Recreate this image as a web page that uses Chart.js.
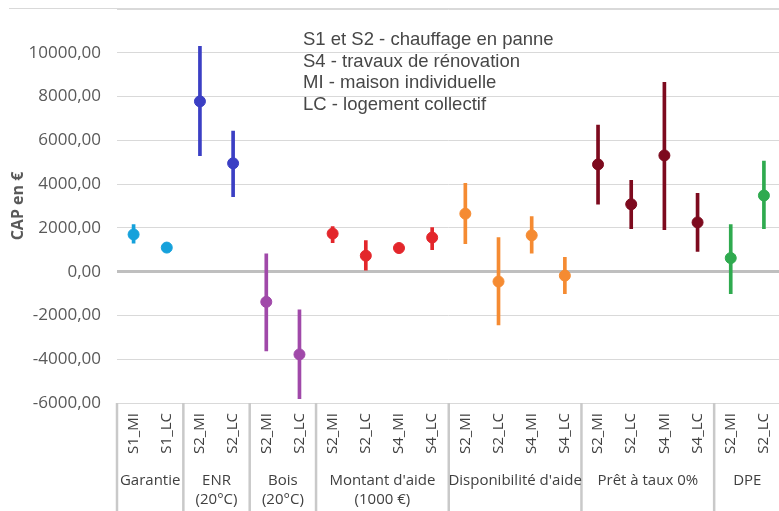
<!DOCTYPE html>
<html>
<head>
<meta charset="utf-8">
<script src="https://cdn.jsdelivr.net/npm/chart.js@4.4.0/dist/chart.umd.min.js"></script>
<style>
    html, body { margin: 0; padding: 0; background: #fff; overflow: hidden; }
    #wrap { position: relative; width: 787px; height: 511px; }
</style>
</head>
<body>
<div id="wrap"><canvas id="c"></canvas></div>
<script>
    // Groups (bottom level of the axis) and how many scenarios each holds
    const groupNames = [
        ['Garantie'],
        ['ENR', '(20°C)'],
        ['Bois', '(20°C)'],
        ["Montant d'aide", '(1000 €)'],
        ["Disponibilité d'aide"],
        ['Prêt à taux 0%'],
        ['DPE']
    ];
    const groupSizes = [2, 2, 2, 4, 4, 4, 2];
    const groupColors = ['#15a1db', '#3b3fc4', '#a049a9', '#e3262b', '#f58b32', '#7d0a1e', '#2faa4f'];

    // Scenarios (top level of the axis)
    const scenarios = [
        'S1_MI', 'S1_LC',
        'S2_MI', 'S2_LC',
        'S2_MI', 'S2_LC',
        'S2_MI', 'S2_LC', 'S4_MI', 'S4_LC',
        'S2_MI', 'S2_LC', 'S4_MI', 'S4_LC',
        'S2_MI', 'S2_LC', 'S4_MI', 'S4_LC',
        'S2_MI', 'S2_LC'
    ];

    // CAP en € : mean value and interval bounds
    const capMean = [1700, 1100, 7780, 4950, -1380, -3780, 1740, 730, 1080, 1560, 2650, -450, 1660, -180, 4900, 3080, 5310, 2250, 620, 3480];
    const capLow  = [1300, 1000, 5300, 3430, -3620, -5800, 1330, 0, 950, 1000, 1280, -2430, 840, -1000, 3080, 1970, 1920, 920, -1000, 1970];
    const capHigh = [2150, 1200, 10300, 6420, 820, -1740, 2060, 1420, 1200, 2010, 4030, 1560, 2520, 650, 6700, 4170, 8650, 3580, 2150, 5050];

    const yMin = -6000;
    const yMax = 12000;
    const yStep = 2000;

    const notes = [
        'S1 et S2 - chauffage en panne',
        'S4 - travaux de rénovation',
        'MI - maison individuelle',
        'LC - logement collectif'
    ];

    // one colour per scenario, taken from its group
    const pointColors = [];
    groupSizes.forEach((n, g) => { for (let i = 0; i < n; i++) pointColors.push(groupColors[g]); });

    const FONT = "'Open Sans', sans-serif";

    const frame = {
        id: 'frame',
        beforeDraw(chart) {
            const { ctx } = chart;
            ctx.save();
            ctx.strokeStyle = '#d9d9d9';
            ctx.lineWidth = 1;
            ctx.beginPath();
            ctx.moveTo(9, 8.5);
            ctx.lineTo(chart.width, 8.5);
            ctx.stroke();
            ctx.restore();
        },
        afterDraw(chart) {
            const { ctx, chartArea, scales: { x } } = chart;
            const top = chartArea.bottom;
            const half = (x.getPixelForValue(1) - x.getPixelForValue(0)) / 2;
            ctx.save();

            // top border of label area
            ctx.strokeStyle = '#d9d9d9';
            ctx.lineWidth = 1;
            ctx.beginPath();
            ctx.moveTo(chartArea.left, top + 0.5);
            ctx.lineTo(chartArea.right, top + 0.5);
            ctx.stroke();

            // group separators
            ctx.strokeStyle = '#c9c9c9';
            ctx.lineWidth = 2.5;
            let idx = 0;
            groupSizes.forEach(n => {
                const bx = x.getPixelForValue(idx) - half;
                ctx.beginPath();
                ctx.moveTo(bx, top);
                ctx.lineTo(bx, chart.height);
                ctx.stroke();
                idx += n;
            });

            // scenario labels, rotated
            ctx.fillStyle = '#404040';
            ctx.font = '15px ' + FONT;
            scenarios.forEach((s, i) => {
                ctx.save();
                ctx.translate(x.getPixelForValue(i), top + 10);
                ctx.rotate(-Math.PI / 2);
                ctx.textAlign = 'right';
                ctx.textBaseline = 'middle';
                ctx.fillText(s, 0, 0);
                ctx.restore();
            });

            // group labels
            ctx.textAlign = 'center';
            ctx.textBaseline = 'middle';
            idx = 0;
            groupNames.forEach((lines, g) => {
                const n = groupSizes[g];
                const cx = (x.getPixelForValue(idx) + x.getPixelForValue(idx + n - 1)) / 2;
                lines.forEach((t, k) => ctx.fillText(t, cx, top + 78 + k * 19));
                idx += n;
            });

            // notes box
            ctx.textAlign = 'left';
            ctx.fillStyle = '#474747';
            ctx.font = "18.5px 'Liberation Sans', Arial, sans-serif";
            notes.forEach((t, k) => ctx.fillText(t, 303, 40 + k * 21.7));

            ctx.restore();
        }
    };

    new Chart(document.getElementById('c'), {
        data: {
            labels: scenarios,
            datasets: [
                {
                    type: 'scatter',
                    data: capMean.map((v, i) => ({ x: i, y: v })),
                    backgroundColor: pointColors,
                    borderColor: pointColors,
                    pointRadius: 5.5,
                    pointBorderWidth: 1,
                    order: 1
                },
                {
                    type: 'bar',
                    data: capLow.map((v, i) => [v, capHigh[i]]),
                    backgroundColor: pointColors,
                    barThickness: 3,
                    order: 2
                }
            ]
        },
        options: {
            responsive: true,
            maintainAspectRatio: false,
            animation: false,
            layout: { padding: { top: 9, bottom: 108, left: 0, right: 0 } },
            plugins: { legend: { display: false }, tooltip: { enabled: false } },
            scales: {
                x: {
                    type: 'category',
                    offset: true,
                    display: false
                },
                y: {
                    min: yMin,
                    max: yMax,
                    afterFit(scale) {
                        scale.width = 117;
                        scale.paddingTop = 0;
                        scale.paddingBottom = 0;
                    },
                    border: { display: false },
                    grid: {
                        drawTicks: false,
                        color: c => c.tick.value === 0 ? '#bfbfbf' : '#d9d9d9',
                        lineWidth: c => c.tick.value === 0 ? 3 : 1
                    },
                    ticks: {
                        stepSize: yStep,
                        padding: 16,
                        color: '#595959',
                        font: { family: FONT, size: 17 },
                        callback: v => v === yMax ? '' : v.toFixed(2).replace('.', ',')
                    },
                    title: {
                        display: true,
                        text: 'CAP en €',
                        color: '#595959',
                        font: { family: FONT, size: 16, weight: 'bold' },
                        padding: { top: 9, bottom: 0 }
                    }
                }
            }
        },
        plugins: [frame]
    });
</script>
</body>
</html>
